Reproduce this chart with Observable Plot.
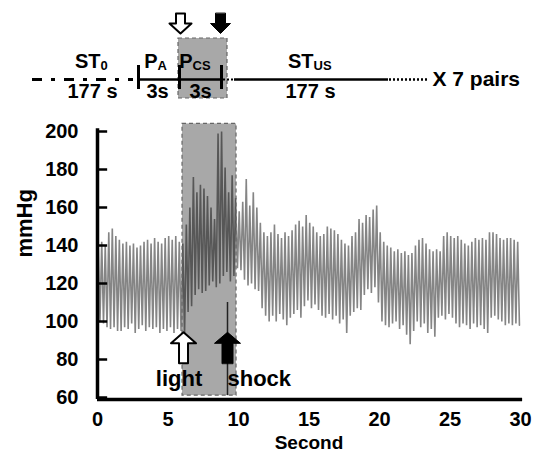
<!DOCTYPE html>
<html><head><meta charset="utf-8">
<script src="https://cdn.jsdelivr.net/npm/d3@7"></script>
<script src="https://cdn.jsdelivr.net/npm/@observablehq/plot@0.6"></script>
<style>
html,body{margin:0;padding:0;background:#fff;}
#chart{width:545px;height:453px;font-family:"Liberation Sans",Arial,sans-serif;}
#chart svg{display:block;}
</style></head><body><div id="chart"></div>
<script>
// ---- protocol diagram data ----
const phaseNames = ["ST", "P", "P", "ST"];
const phaseSubs = ["0", "A", "CS", "US"];
const phaseDurations = ["177 s", "3s", "3s", "177 s"];
const repeatLabel = "X 7 pairs";

// ---- blood pressure trace data (mmHg), one beat every beatStep seconds ----
const traceStart = 0.05;
const beatStep = 0.25;
const systolic = [
  139,142,140,147, 149,145,143,141,
  142,140,141,139, 140,142,143,141,
  144,142,141,144, 145,143,145,142,
  141,151,160,176, 168,172,170,166,
  160,154,199,200, 181,168,177,165,
  158,163,175,161, 168,160,152,147,
  145,147,151,146, 144,147,145,148,
  151,153,150,156, 152,150,147,145,
  146,150,149,148, 146,143,141,140,
  145,147,154,152, 156,155,159,161,
  147,142,140,139, 137,138,136,137,
  135,136,140,143, 144,141,138,137,
  138,137,145,147, 145,144,145,143,
  141,140,142,144, 143,144,143,147,
  147,146,144,143, 144,144,143,142
];
const diastolic = [
  100,99,97,96, 97,95,95,97,
  96,99,94,96, 98,95,97,96,
  97,94,96,95, 97,94,96,95,
  93,105,108,114, 117,115,116,119,
  121,118,120,124, 126,121,124,128,
  127,122,119,120, 117,116,107,103,
  100,103,100,104, 101,98,102,104,
  106,102,108,111, 107,109,106,103,
  102,104,101,103, 99,101,94,103,
  105,107,106,114, 117,115,118,110,
  100,98,97,99, 100,96,98,93,
  88,95,100,97, 99,94,96,92,
  102,103,101,104, 102,99,97,99,
  98,96,99,97, 98,96,94,102,
  103,101,100,98, 99,98,99,98
];
const stimulusLabels = ["light", "shock"];
const stimulusTimes = [6.1, 9.22];
const csWindow = [6.03, 9.86];
const xTicks = [0, 5, 10, 15, 20, 25, 30];
const yTicks = [60, 80, 100, 120, 140, 160, 180, 200];

// ---- build trace table ----
const trace = [];
systolic.forEach((s, i) => {
  trace.push({t: traceStart + i * beatStep, p: s});
  trace.push({t: traceStart + i * beatStep + beatStep / 2, p: diastolic[i]});
});

const font = "Liberation Sans, Arial, sans-serif";
const blockArrow = (hw, sw, hh) => ({
  draw(context, l) {
    context.moveTo(-sw, 0);
    context.lineTo(-sw, -(l - hh));
    context.lineTo(-hw, -(l - hh));
    context.lineTo(0, -l);
    context.lineTo(hw, -(l - hh));
    context.lineTo(sw, -(l - hh));
    context.lineTo(sw, 0);
    context.closePath();
  }
});

// ---- top protocol diagram (layout in diagram pixels) ----
const nameX = [100, 157, 192, 313];
const durX = [92, 157, 200, 310];
const diagram = Plot.plot({
  width: 545, height: 110,
  margin: 0,
  x: {domain: [0, 545], range: [0, 545], axis: null},
  y: {domain: [0, 110], range: [0, 110], axis: null},
  style: {fontFamily: font, background: "white", overflow: "visible"},
  marks: [
    Plot.rect([0], {x1: 178, x2: 227, y1: 38, y2: 98, fill: "#a8a8a8", stroke: "#666", strokeWidth: 1.2, strokeDasharray: "4,3"}),
    Plot.ruleY([79], {x1: 32, x2: 133, stroke: "black", strokeWidth: 3, strokeDasharray: "10,9,4,9"}),
    Plot.ruleY([79], {x1: 138, x2: 221, stroke: "black", strokeWidth: 2.5}),
    Plot.ruleY([79], {x1: 223, x2: 234, stroke: "black", strokeWidth: 2, strokeDasharray: "2,2"}),
    Plot.ruleY([79], {x1: 234, x2: 388, stroke: "black", strokeWidth: 2.5}),
    Plot.ruleY([79], {x1: 389, x2: 429, stroke: "black", strokeWidth: 2.5, strokeDasharray: "2,2"}),
    Plot.ruleX([138, 179, 221], {y1: 65, y2: 89, stroke: "black", strokeWidth: 3}),
    Plot.vector([180], {x: d => d, y: 13, length: 20, rotate: 180, anchor: "start", shape: blockArrow(11, 4.5, 10), fill: "white", stroke: "black", strokeWidth: 2}),
    Plot.vector([220], {x: d => d, y: 13, length: 20, rotate: 180, anchor: "start", shape: blockArrow(10, 5, 10), fill: "black", stroke: "black", strokeWidth: 1}),
    Plot.text(phaseNames, {x: (d, i) => nameX[i], y: 67, text: d => d, textAnchor: "end", lineAnchor: "bottom", fontSize: 20, fontWeight: "bold", fill: "black"}),
    Plot.text(phaseSubs, {x: (d, i) => nameX[i], y: 69, text: d => d, textAnchor: "start", lineAnchor: "bottom", fontSize: 13, fontWeight: "bold", fill: "black"}),
    Plot.text(phaseDurations, {x: (d, i) => durX[i], y: 97, text: d => d, textAnchor: "middle", lineAnchor: "bottom", fontSize: 20, fontWeight: "bold", fill: "black"}),
    Plot.text([repeatLabel], {x: 432, y: 85, text: d => d, textAnchor: "start", lineAnchor: "bottom", fontSize: 21, fontWeight: "bold", fill: "black"})
  ]
});

// ---- main chart ----
const mainChart = Plot.plot({
  width: 545, height: 343,
  marginLeft: 97, marginRight: 25, marginTop: 21, marginBottom: 56,
  style: {fontFamily: font, background: "white", overflow: "visible"},
  x: {domain: [0, 30]},
  y: {domain: [60, 200]},
  marks: [
    Plot.axisX(xTicks, {tickSize: 0, tickPadding: 14, fontSize: 20, fontWeight: "bold", label: null}),
    Plot.axisY(yTicks, {tickSize: 0, tickPadding: 19, fontSize: 20, fontWeight: "bold", label: null}),
    Plot.line(trace, {x: "t", y: "p", stroke: "#858585", strokeWidth: 1.6, strokeLinejoin: "miter"}),
    Plot.rect([0], {x1: csWindow[0], x2: csWindow[1], y1: 61, y2: 204, fill: "black", fillOpacity: 0.34, stroke: "#666", strokeWidth: 1.2, strokeDasharray: "4,3"}),
    Plot.ruleX([stimulusTimes[1]], {y1: 61, y2: 110, stroke: "#222", strokeWidth: 1.5}),
    Plot.vector([stimulusTimes[0]], {x: d => d, y: 78, length: 31, anchor: "start", shape: blockArrow(12.5, 4.5, 11), fill: "white", stroke: "black", strokeWidth: 2}),
    Plot.vector([stimulusTimes[1]], {x: d => d, y: 78, length: 31, anchor: "start", shape: blockArrow(13, 5.5, 11), fill: "black", stroke: "black", strokeWidth: 1}),
    Plot.ruleX([0], {y1: 59, y2: 201.5, stroke: "black", strokeWidth: 3.5}),
    Plot.ruleY([59], {x1: 0, x2: 30.15, stroke: "black", strokeWidth: 3.5}),
    Plot.ruleY(yTicks, {x1: 0, x2: 0.72, stroke: "black", strokeWidth: 2.5}),
    Plot.text([stimulusLabels[0]], {x: stimulusTimes[0], y: 66.3, text: d => d, dx: -4.5, textAnchor: "middle", lineAnchor: "bottom", fontSize: 22, fontWeight: "bold", fill: "black"}),
    Plot.text([stimulusLabels[1]], {x: stimulusTimes[1], y: 66.3, text: d => d, textAnchor: "start", lineAnchor: "bottom", fontSize: 22, fontWeight: "bold", fill: "black"}),
    Plot.text(["mmHg"], {frameAnchor: "left", text: d => d, rotate: -90, dx: -73, dy: -7, fontSize: 22, fontWeight: "bold", fill: "black"}),
    Plot.text(["Second"], {frameAnchor: "bottom", text: d => d, dy: 51, lineAnchor: "bottom", fontSize: 19, fontWeight: "bold", fill: "black"})
  ]
});

const chart = document.getElementById("chart");
chart.appendChild(diagram);
chart.appendChild(mainChart);
</script></body></html>
